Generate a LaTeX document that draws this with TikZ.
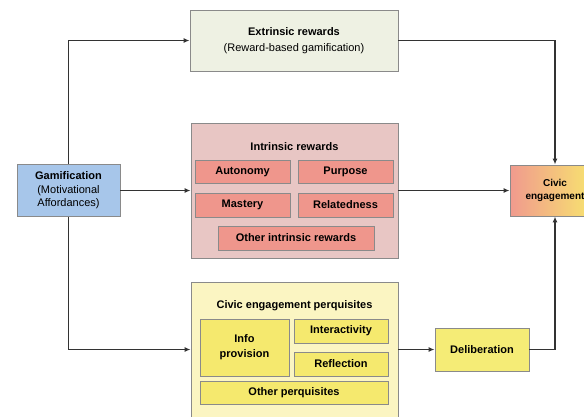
\documentclass[tikz,border=0pt]{standalone}
\usepackage{fontspec}
\setmainfont{Liberation Sans}
\usetikzlibrary{arrows.meta}
\definecolor{bordergray}{HTML}{8A8A8A}
\definecolor{linedark}{HTML}{333333}
\definecolor{gamblue}{HTML}{A7C6EA}
\definecolor{extfill}{HTML}{EEF1E3}
\definecolor{intouter}{HTML}{E8C6C4}
\definecolor{intinner}{HTML}{EF968C}
\definecolor{perqouter}{HTML}{FBF5C2}
\definecolor{perqinner}{HTML}{F5E96E}
\definecolor{delibfill}{HTML}{F5EC76}
\definecolor{civicleft}{HTML}{F09A8E}
\definecolor{civicright}{HTML}{F8EA6C}
\tikzset{
  box/.style={draw=bordergray, line width=0.9pt, rectangle, inner sep=0pt, align=center, font=\fontsize{11}{14}\selectfont},
  inbox/.style={box, font=\fontsize{11}{14}\selectfont\bfseries},
  title/.style={inner sep=0pt, font=\fontsize{11}{14}\selectfont\bfseries},
  conn/.style={draw=linedark, line width=1.3pt, -{Latex[length=6pt,width=5pt]}}
}
\begin{document}
\begin{tikzpicture}[x=1pt,y=-1pt]
\useasboundingbox (0,0) rectangle (584,416);
\clip (0,0) rectangle (584,416);
\fill[white] (0,0) rectangle (584,416);
% left box
\node[box, fill=gamblue, minimum width=103pt, minimum height=52pt,
  font=\fontsize{11}{13.5}\selectfont] (gam) at (68.5,190.5)
  {\textbf{Gamification}\\(Motivational\\Affordances)};
% extrinsic
\node[box, fill=extfill, minimum width=208pt, minimum height=61pt,
  font=\fontsize{11}{15.5}\selectfont] (ext) at (294,40.5)
  {\textbf{Extrinsic rewards}\\(Reward-based gamification)};
% intrinsic
\node[box, fill=intouter, minimum width=207pt, minimum height=135pt] (intr) at (294.5,190.5) {};
\node[title] (intrt) at (294.5,147) {Intrinsic rewards};
\node[inbox, fill=intinner, minimum width=95pt, minimum height=23pt] (auto) at (242.5,171.5) {Autonomy};
\node[inbox, fill=intinner, minimum width=95pt, minimum height=23pt] (purp) at (345.5,171.5) {Purpose};
\node[inbox, fill=intinner, minimum width=95pt, minimum height=24pt] (mast) at (242.5,205) {Mastery};
\node[inbox, fill=intinner, minimum width=95pt, minimum height=24pt] (rel) at (345.5,205) {Relatedness};
\node[inbox, fill=intinner, minimum width=156pt, minimum height=24pt] (oir) at (296,238) {Other intrinsic rewards};
% perquisites
\node[box, fill=perqouter, minimum width=207pt, minimum height=135pt] (perq) at (294.5,349.5) {};
\node[title] (perqt) at (294.5,306) {Civic engagement perquisites};
\node[inbox, fill=perqinner, minimum width=89pt, minimum height=57pt,
  font=\fontsize{11}{15}\selectfont\bfseries] (info) at (244.5,347.5) {Info\\provision};
\node[inbox, fill=perqinner, minimum width=94pt, minimum height=24pt] (inter) at (341,331) {Interactivity};
\node[inbox, fill=perqinner, minimum width=94pt, minimum height=24pt] (refl) at (341,364) {Reflection};
\node[inbox, fill=perqinner, minimum width=188pt, minimum height=23pt] (othp) at (294,392.5) {Other perquisites};
% civic engagement
\node[box, left color=civicleft, right color=civicright, minimum width=90pt, minimum height=51pt,
  font=\fontsize{10}{12.5}\selectfont\bfseries] (civic) at (555,190.5) {Civic\\engagement};
% deliberation
\node[inbox, fill=delibfill, minimum width=94pt, minimum height=43pt] (delib) at (482,349.5) {Deliberation};
% connectors
\draw[conn] (gam.north) |- (ext.west);
\draw[conn] (gam.east) -- (intr.west);
\draw[conn] (gam.south) |- (perq.west);
\draw[conn] (ext.east) -| (civic.north);
\draw[conn] (intr.east) -- (civic.west);
\draw[conn] (perq.east) -- (delib.west);
\draw[conn] (delib.east) -| (civic.south);
\end{tikzpicture}
\end{document}
